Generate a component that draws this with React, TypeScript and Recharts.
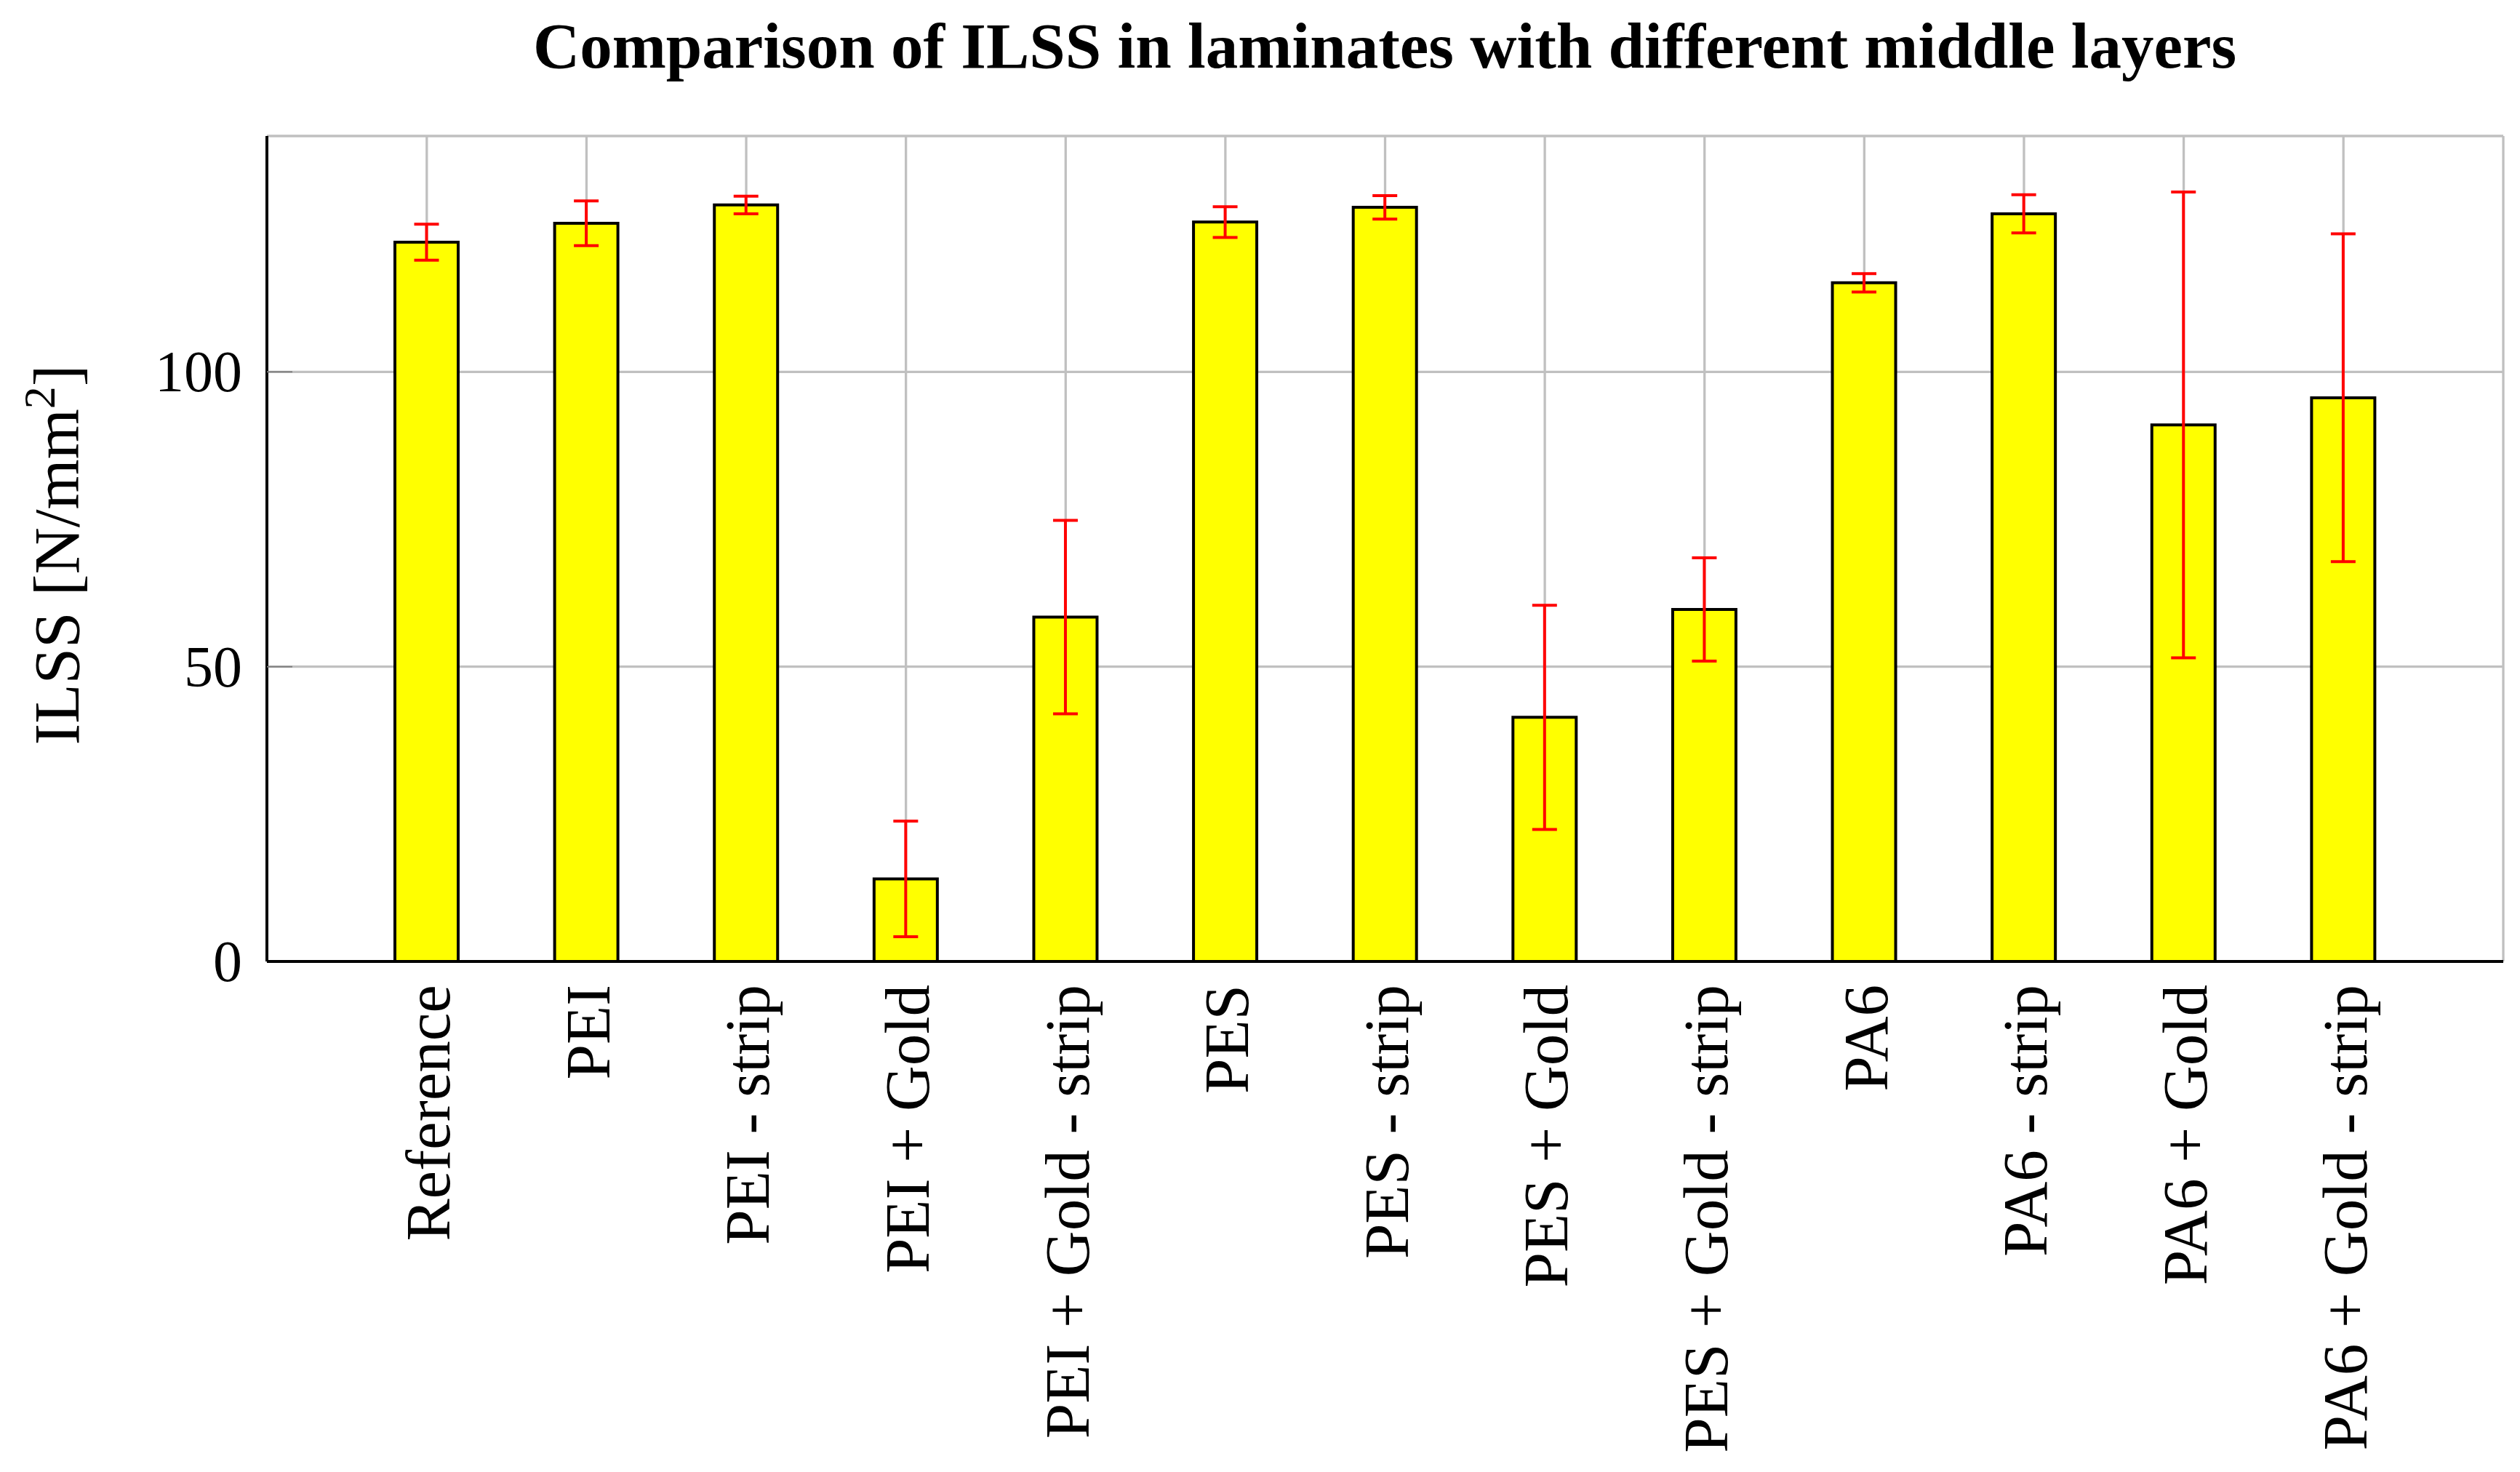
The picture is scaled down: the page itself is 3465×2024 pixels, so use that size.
import React from "react";
import { BarChart, Bar, XAxis, YAxis, CartesianGrid, ErrorBar } from "recharts";

const categories = [
  "Reference",
  "PEI",
  "PEI - strip",
  "PEI + Gold",
  "PEI + Gold - strip",
  "PES",
  "PES - strip",
  "PES + Gold",
  "PES + Gold - strip",
  "PA6",
  "PA6 - strip",
  "PA6 + Gold",
  "PA6 + Gold - strip",
];
const ilssValues = [122.0, 125.2, 128.3, 14.0, 58.4, 125.4, 127.9, 41.4, 59.7, 115.1, 126.8, 91.0, 95.6];
const ilssErrors = [3.05, 3.8, 1.5, 9.8, 16.4, 2.6, 2.0, 19.0, 8.75, 1.55, 3.25, 39.5, 27.8];
const yTicks = [0, 50, 100];
const yDomain = [0, 140];

const data = categories.map((name, i) => ({ name, value: ilssValues[i], err: ilssErrors[i] }));

const W = 3465;
const H = 2024;
const FONT = "'Liberation Serif', 'Times New Roman', serif";
const TICK_GRAY = "#808080";
const GRID_GRAY = "#c0c0c0";
const TICK_LEN = 35;
const AXIS_LINE = { stroke: "#000", strokeWidth: 4, strokeOpacity: 1 };

const XTick = (props: any) => {
  const { x, y, payload } = props;
  const ty = y + 32;
  return (
    <text
      x={x}
      y={ty}
      transform={`rotate(-90 ${x} ${ty})`}
      textAnchor="end"
      dy="0.36em"
      fontSize={87}
      fontFamily={FONT}
      fill="#000"
      stroke="none"
    >
      {payload.value}
    </text>
  );
};

const TopTick = (props: any) => {
  const { x, y } = props;
  return <line x1={x} x2={x} y1={y} y2={y + TICK_LEN} stroke={TICK_GRAY} strokeWidth={2} />;
};

const LeftTick = (props: any) => {
  const { x, y, payload } = props;
  return (
    <g>
      {payload.value > 0 && (
        <line x1={x} x2={x + TICK_LEN} y1={y} y2={y} stroke={TICK_GRAY} strokeWidth={2} />
      )}
      <text
        x={x - 34}
        y={y}
        dy="0.34em"
        textAnchor="end"
        fontSize={80}
        fontFamily={FONT}
        fill="#000"
        stroke="none"
      >
        {payload.value}
      </text>
    </g>
  );
};

const RightTick = (props: any) => {
  const { x, y } = props;
  return <line x1={x - TICK_LEN} x2={x} y1={y} y2={y} stroke={TICK_GRAY} strokeWidth={2} />;
};

export default function App() {
  const pad = { left: 110, right: 110 };
  return (
    <div style={{ position: "absolute", left: 0, top: 0, width: W, height: H, background: "#fff" }}>
      <BarChart
        width={W}
        height={H}
        data={data}
        margin={{ top: 187, right: 23, bottom: 0, left: 0 }}
        barCategoryGap={0}
      >
        <CartesianGrid stroke={GRID_GRAY} strokeWidth={3.3} />
        <XAxis
          dataKey="name"
          height={702}
          padding={pad}
          interval={0}
          stroke="#000"
          strokeWidth={4}
          tickLine={false}
          tickSize={0}
          tickMargin={0}
          axisLine={AXIS_LINE}
          tick={XTick}
        />
        <XAxis
          xAxisId="top"
          orientation="top"
          dataKey="name"
          height={0}
          padding={pad}
          interval={0}
          stroke="#000"
          strokeWidth={4}
          tickLine={false}
          tickSize={0}
          tickMargin={0}
          axisLine={AXIS_LINE}
          tick={TopTick}
        />
        <YAxis
          width={367}
          domain={yDomain}
          ticks={yTicks}
          interval={0}
          allowDataOverflow
          stroke="#000"
          strokeWidth={4}
          tickLine={false}
          tickSize={0}
          tickMargin={0}
          axisLine={AXIS_LINE}
          tick={LeftTick}
        />
        <YAxis
          yAxisId="right"
          orientation="right"
          width={0}
          domain={yDomain}
          ticks={[50, 100]}
          interval={0}
          allowDataOverflow
          stroke="#000"
          strokeWidth={4}
          tickLine={false}
          tickSize={0}
          tickMargin={0}
          axisLine={AXIS_LINE}
          tick={RightTick}
        />
        <Bar dataKey="value" fill="#ffff00" stroke="#000" strokeWidth={4} barSize={87} isAnimationActive={false}>
          <ErrorBar dataKey="err" direction="y" width={17} stroke="#ff0000" strokeWidth={4} />
        </Bar>
      </BarChart>
      <svg
        width={W}
        height={H}
        style={{ position: "absolute", left: 0, top: 0, pointerEvents: "none" }}
      >
        <text x={1904} y={93} textAnchor="middle" fontSize={89} fontWeight="bold" fontFamily={FONT} fill="#000">
          Comparison of ILSS in laminates with different middle layers
        </text>
        <text
          x={0}
          y={0}
          transform="translate(108 763) rotate(-90)"
          textAnchor="middle"
          fontSize={89}
          fontFamily={FONT}
          fill="#000"
        >
          ILSS [N/mm
          <tspan dy={-33} fontSize={62}>
            2
          </tspan>
          <tspan dy={33}>]</tspan>
        </text>
      </svg>
    </div>
  );
}
